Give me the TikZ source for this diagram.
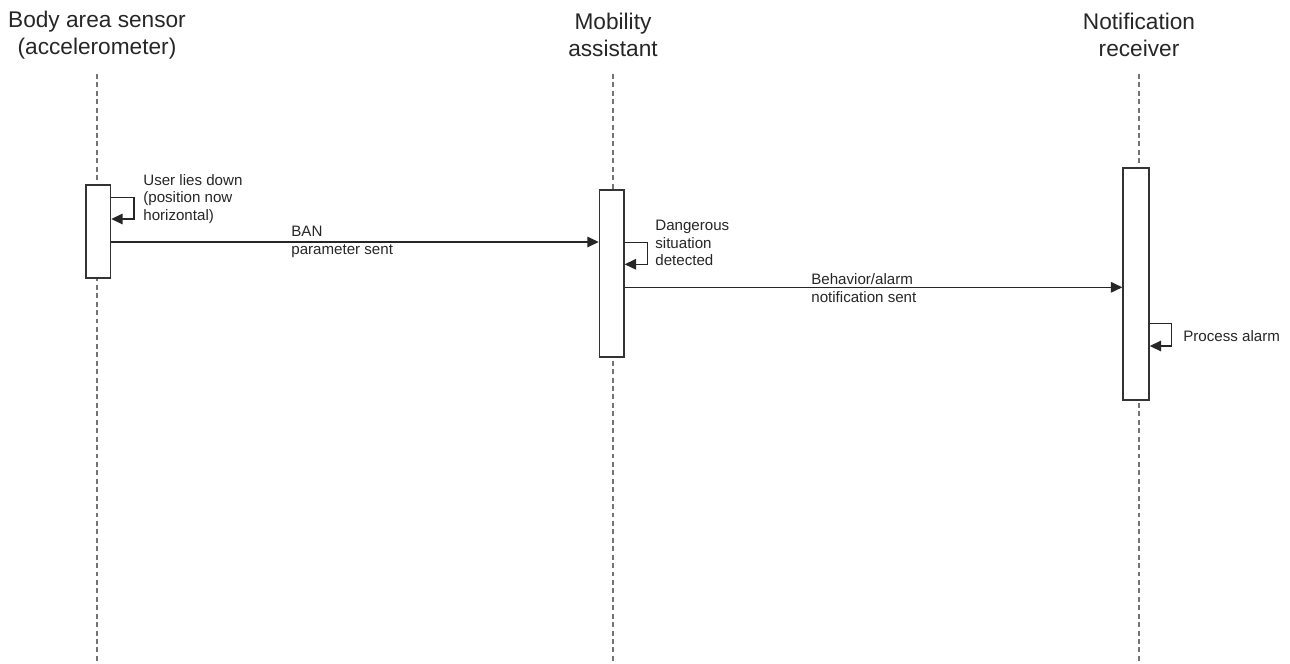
\documentclass[tikz,border=0pt]{standalone}
\usepackage{fontspec}
\setmainfont{Liberation Sans}
\usetikzlibrary{arrows.meta}
\begin{document}
\begin{tikzpicture}[x=0.02cm,y=-0.02cm,
  head/.style={font=\fontsize{12.9}{15}\selectfont, align=center, text=black!85, inner sep=0pt},
  lbl/.style={font=\fontsize{8.6}{9.9}\selectfont, align=left, text=black!85, inner sep=0pt, anchor=west},
  life/.style={draw=black!55, line width=0.75pt, dash pattern=on 2.8pt off 2pt},
  act/.style={draw=black!80, fill=white, line width=0.8pt, inner sep=0pt, minimum width=0.49cm},
  msg/.style={draw=black!85, line width=0.8pt, -{Triangle[length=6.5pt,width=6pt]}}
]
% canvas
\useasboundingbox (0,0) rectangle (1290,663);

% participants
\node[head] (p1) at (97,35)   {Body area sensor\\(accelerometer)};
\node[head] (p2) at (613,35)  {Mobility\\assistant};
\node[head] (p3) at (1139,35) {Notification\\receiver};

% lifelines
\coordinate (e1) at (97,663);
\coordinate (e2) at (613,663);
\coordinate (e3) at (1139,663);
\draw[life] (97,74) -- (e1);
\draw[life] (613,74) -- (e2);
\draw[life] (1139,74) -- (e3);

% activation bars
\node[act, minimum height=1.86cm] (a1) at (98.3,231.5) {};
\node[act, minimum height=3.34cm] (a2) at (611.7,273.5) {};
\node[act, minimum height=4.64cm, minimum width=0.52cm] (a3) at (1136,284) {};

% self call on the sensor
\coordinate (s1) at (a1.east |- 0,197.5);
\coordinate (s1e) at (a1.east |- 0,219);
\draw[msg] (s1) -- (134,197.5) -- (134,219) -- (s1e);
\node[lbl] (t1) at (143,199) {User lies down\\(position now\\horizontal)};

% BAN parameter message
\coordinate (m1s) at (a1.east |- 0,242);
\coordinate (m1e) at (a2.west |- 0,242);
\draw[msg] (m1s) -- (m1e);
\node[lbl] (t2) at (291,242) {BAN\\parameter sent};

% self call on the assistant
\coordinate (s2) at (a2.east |- 0,242.7);
\coordinate (s2e) at (a2.east |- 0,264.3);
\draw[msg] (s2) -- (647.7,242.7) -- (647.7,264.3) -- (s2e);
\node[lbl] (t3) at (655,243) {Dangerous\\situation\\detected};

% notification message
\coordinate (m2s) at (a2.east |- 0,287.3);
\coordinate (m2e) at (a3.west |- 0,287.3);
\draw[msg] (m2s) -- (m2e);
\node[lbl] (t4) at (811,288) {Behavior/alarm\\notification sent};

% self call on the receiver
\coordinate (s3) at (a3.east |- 0,323.3);
\coordinate (s3e) at (a3.east |- 0,346);
\draw[msg] (s3) -- (1171.7,323.3) -- (1171.7,346) -- (s3e);
\node[lbl] (t5) at (1183,336) {Process alarm};
\end{tikzpicture}
\end{document}
